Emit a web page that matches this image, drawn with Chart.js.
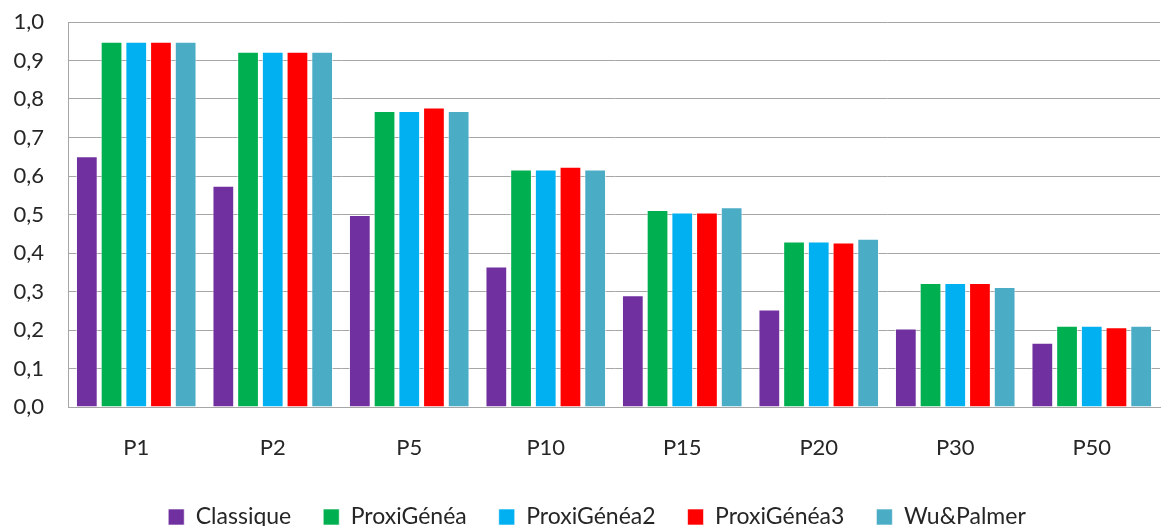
<!DOCTYPE html>
<html>
<head>
<meta charset="utf-8">
<script src="https://cdn.jsdelivr.net/npm/chart.js@4"></script>
<style>
  html, body { margin: 0; padding: 0; background: #fff; }
  #wrap { width: 1164px; height: 526px; }
</style>
</head>
<body>
<div id="wrap"><canvas id="chart"></canvas></div>
<script>
const categories = ["P1", "P2", "P5", "P10", "P15", "P20", "P30", "P50"];

const classique    = [0.651, 0.575, 0.499, 0.365, 0.290, 0.253, 0.204, 0.167];
const proxiGenea   = [0.949, 0.923, 0.769, 0.617, 0.512, 0.430, 0.322, 0.211];
const proxiGenea2  = [0.949, 0.923, 0.769, 0.617, 0.505, 0.430, 0.322, 0.211];
const proxiGenea3  = [0.949, 0.923, 0.778, 0.624, 0.505, 0.427, 0.322, 0.207];
const wuPalmer     = [0.949, 0.923, 0.769, 0.617, 0.519, 0.437, 0.312, 0.211];

const seriesNames  = ["Classique", "ProxiGénéa", "ProxiGénéa2", "ProxiGénéa3", "Wu&Palmer"];
const seriesColors = ["#7030a0", "#00b050", "#00b0f0", "#ff0000", "#4bacc6"];
const seriesData   = [classique, proxiGenea, proxiGenea2, proxiGenea3, wuPalmer];

const font = "Lato, 'Open Sans', sans-serif";
const textColor = "#262626";

// nudge the legend row a bit right, like the original
const legendShift = {
  id: "legendShift",
  afterLayout(chart) {
    chart.legend.left += 12;
    chart.legend.right += 12;
  }
};

new Chart(document.getElementById("chart"), {
  type: "bar",
  data: {
    labels: categories,
    datasets: seriesData.map((d, i) => ({
      label: seriesNames[i],
      data: d,
      backgroundColor: seriesColors[i],
      borderColor: "rgba(255,255,255,0.6)",
      borderWidth: 1,
      categoryPercentage: 0.905,
      barPercentage: 0.88
    }))
  },
  options: {
    responsive: true,
    maintainAspectRatio: false,
    animation: false,
    // negative bottom padding lets the legend row sit on the canvas edge
    layout: { padding: { left: 10, right: 4, top: 0, bottom: -12.5 } },
    scales: {
      x: {
        grid: { display: false, drawTicks: false },
        border: { display: true, color: "#a6a6a6", width: 1 },
        ticks: { color: textColor, font: { family: font, size: 22 }, padding: 28 },
        afterFit: s => { s.height = 66.5; }
      },
      y: {
        min: 0,
        max: 1,
        ticks: {
          stepSize: 0.1,
          color: textColor,
          font: { family: font, size: 22 },
          padding: 24,
          callback: v => v.toFixed(1).replace(".", ",")
        },
        grid: { color: "#a6a6a6", lineWidth: 1, drawTicks: false },
        border: { display: true, color: "#a6a6a6", width: 1 },
        afterFit: s => { s.width = 58; s.paddingTop = 22; }
      }
    },
    plugins: {
      legend: {
        position: "bottom",
        labels: {
          color: textColor,
          font: { family: font, size: 23 },
          boxWidth: 16,
          boxHeight: 16,
          padding: 32
        }
      },
      tooltip: { enabled: false }
    }
  },
  plugins: [legendShift]
});
</script>
</body>
</html>
